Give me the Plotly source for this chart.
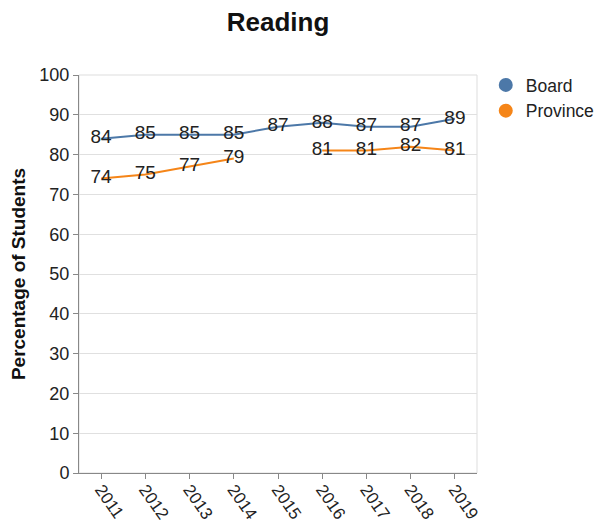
import plotly.graph_objects as go

years = [2011, 2012, 2013, 2014, 2015, 2016, 2017, 2018, 2019]
board = [84, 85, 85, 85, 87, 88, 87, 87, 89]
province = [74, 75, 77, 79, None, 81, 81, 82, 81]
year_labels = [str(y) for y in years]

BLUE = "#4c78a8"
ORANGE = "#f58518"
FONT = "Liberation Sans, Arial, sans-serif"

# page body has an 8px margin, so the figure is sized to the visible area
W, H = 597, 517

fig = go.Figure()
for name, vals, col in [("Board", board, BLUE), ("Province", province, ORANGE)]:
    fig.add_trace(go.Scatter(
        x=years, y=vals, mode="lines+text", name=name,
        line=dict(color=col, width=2), connectgaps=False,
        text=[("" if v is None else str(v)) for v in vals],
        textposition="middle center",
        textfont=dict(size=19, color="#222222", family=FONT),
        showlegend=False, hoverinfo="skip",
    ))
    fig.add_trace(go.Scatter(
        x=[None], y=[None], mode="markers", name=name,
        marker=dict(color=col, size=14, symbol="circle"),
        showlegend=True,
    ))

fig.update_layout(
    width=W, height=H,
    margin=dict(l=71, r=128, t=67, b=52, autoexpand=False),
    paper_bgcolor="white", plot_bgcolor="white",
    font=dict(family=FONT, color="#222222"),
    title=dict(text="<b>Reading</b>", x=0.5, xanchor="center", xref="paper",
               y=1 - 14 / H, yref="container", yanchor="middle",
               font=dict(size=26, color="#111111")),
    legend=dict(x=1.022, y=1.02, xanchor="left", yanchor="top",
                font=dict(size=17.5, color="#222222"), itemwidth=30,
                tracegroupgap=0, bgcolor="rgba(0,0,0,0)"),
    shapes=[dict(type="rect", xref="paper", yref="paper", x0=0, x1=1, y0=0, y1=1,
                 line=dict(color="#dddddd", width=1), layer="below")],
)
fig.update_xaxes(
    range=[2010.5, 2019.5], tickmode="array", tickvals=years, ticktext=year_labels,
    tickangle=55, ticks="outside", ticklen=5, tickcolor="#888888",
    tickfont=dict(size=17, color="#222222"), ticklabelstandoff=-6,
    showgrid=False, showline=True, linecolor="#888888", linewidth=1,
    zeroline=False, automargin=False,
)
fig.update_yaxes(
    range=[0, 100], tickmode="linear", tick0=0, dtick=10,
    ticks="outside", ticklen=5, tickcolor="#888888",
    tickfont=dict(size=18, color="#222222"),
    showgrid=True, gridcolor="#e0e0e0", gridwidth=1,
    showline=True, linecolor="#888888", linewidth=1, zeroline=False,
    automargin=False,
    title=dict(text="<b>Percentage of Students</b>", font=dict(size=19, color="#111111"), standoff=9),
)

fig.write_html("out.html")
